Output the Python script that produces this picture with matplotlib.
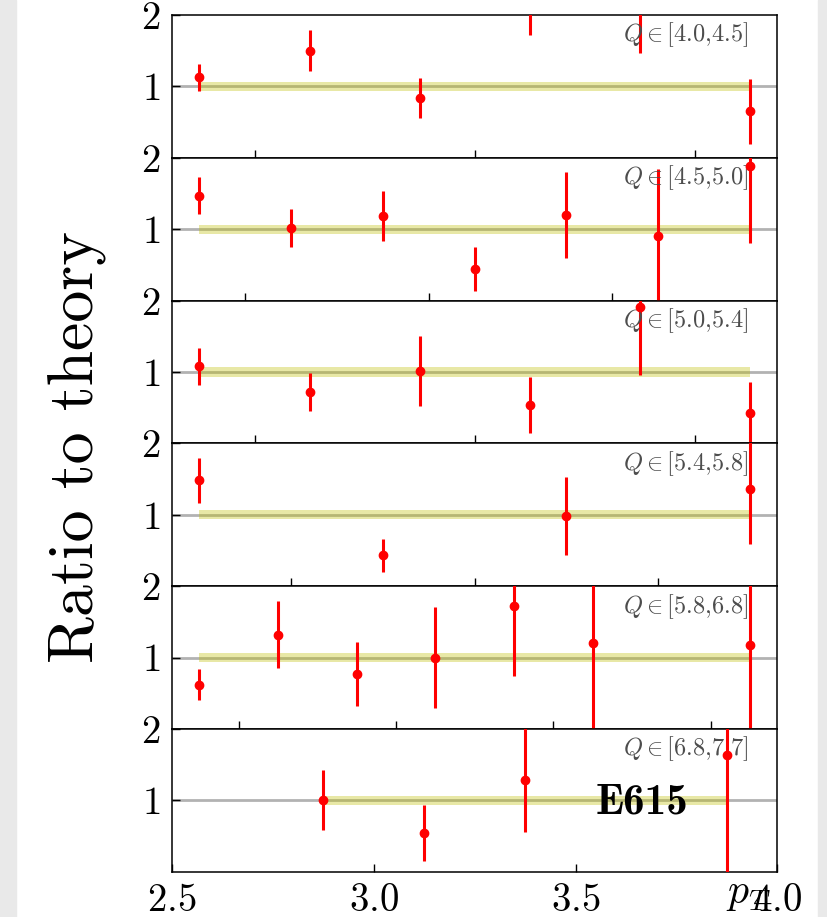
import numpy as np
import matplotlib
matplotlib.use('Agg')
import matplotlib.pyplot as plt
from matplotlib.ticker import MultipleLocator
from matplotlib.patches import Rectangle

plt.rcParams['font.family'] = 'cmr10'
plt.rcParams['mathtext.fontset'] = 'cm'
plt.rcParams['axes.formatter.use_mathtext'] = True

# pT bin centres, ratio data / theory and errors for each Q bin
q_bins = ['[4.0{,}4.5]', '[4.5{,}5.0]', '[5.0{,}5.4]', '[5.4{,}5.8]', '[5.8{,}6.8]', '[6.8{,}7.7]']

x_q1 = [2.875, 3.125, 3.375, 3.625, 3.875, 4.125]
r_q1 = [1.13, 1.50, 0.84, 2.30, 2.40, 0.65]
e_q1 = [0.19, 0.29, 0.28, 0.58, 0.93, 0.46]

x_q2 = [2.875, 3.125, 3.375, 3.625, 3.875, 4.125, 4.375]
r_q2 = [1.47, 1.02, 1.18, 0.44, 1.20, 0.91, 1.88]
e_q2 = [0.26, 0.27, 0.35, 0.31, 0.60, 0.93, 1.07]

x_q3 = [2.875, 3.125, 3.375, 3.625, 3.875, 4.125]
r_q3 = [1.08, 0.72, 1.01, 0.54, 1.91, 0.43]
e_q3 = [0.26, 0.27, 0.49, 0.39, 0.95, 0.43]

x_q4 = [2.75, 3.25, 3.75, 4.25]
r_q4 = [1.48, 0.43, 0.98, 1.36]
e_q4 = [0.32, 0.23, 0.55, 0.77]

x_q5 = [2.875, 3.125, 3.375, 3.625, 3.875, 4.125, 4.625]
r_q5 = [0.62, 1.32, 0.77, 1.00, 1.72, 1.20, 1.18]
e_q5 = [0.22, 0.47, 0.45, 0.71, 0.98, 1.30, 1.30]

x_q6 = [2.875, 3.125, 3.375, 3.875]
r_q6 = [1.00, 0.54, 1.29, 1.63]
e_q6 = [0.42, 0.39, 0.74, 1.70]

band_err = 0.065

xs = [x_q1, x_q2, x_q3, x_q4, x_q5, x_q6]
rs = [r_q1, r_q2, r_q3, r_q4, r_q5, r_q6]
es = [e_q1, e_q2, e_q3, e_q4, e_q5, e_q6]

fig = plt.figure(figsize=(8.28, 9.17), dpi=100)
# light grey page margins left and right
fig.patches.append(Rectangle((0, 0), 16 / 828, 1, transform=fig.transFigure,
                             color='#e9e9e9', zorder=-10))
fig.patches.append(Rectangle((818 / 828, 0), 10 / 828, 1, transform=fig.transFigure,
                             color='#e9e9e9', zorder=-10))

gs = fig.add_gridspec(6, 1, left=0.2077, right=0.939, top=0.9836, bottom=0.0494, hspace=0)

for i in range(6):
    ax = fig.add_subplot(gs[i])
    x = np.array(xs[i])
    r = np.array(rs[i])
    e = np.array(es[i])

    ax.axhline(1, color='gray', lw=2, alpha=0.6, zorder=1)
    ax.fill_between([x.min(), x.max()], 1 - band_err, 1 + band_err,
                    color='y', alpha=0.35, lw=0, zorder=2)
    ax.errorbar(x, r, yerr=e, fmt='o', color='red', ms=6, lw=2.2,
                capsize=0, zorder=3)

    ax.set_ylim(0, 2)
    ax.set_yticks([1, 2])
    ax.xaxis.set_major_locator(MultipleLocator(0.5))
    ax.tick_params(direction='in', length=6, width=1, labelsize=28,
                   top=False, right=False, pad=8)
    for s in ax.spines.values():
        s.set_linewidth(1.1)

    ax.text(0.952, 0.86, r'$Q \in ' + q_bins[i] + '$', transform=ax.transAxes,
            ha='right', va='center', fontsize=17.5, color='0.3')

    if i < 5:
        ax.tick_params(labelbottom=False)
    else:
        ax.set_xlim(2.5, 4.0)
        ax.text(3.55, 0.965, 'E615', family='cmb10', ha='left', va='center',
                fontsize=31, zorder=5)

fig.text(78 / 828, 1 - 447 / 917, 'Ratio to theory', rotation=90,
         ha='center', va='center', fontsize=46)
fig.text(726 / 828, 1 - 903 / 917, r'$p_T$', ha='left', va='baseline', fontsize=30)

fig.savefig('out.png', dpi=100)
